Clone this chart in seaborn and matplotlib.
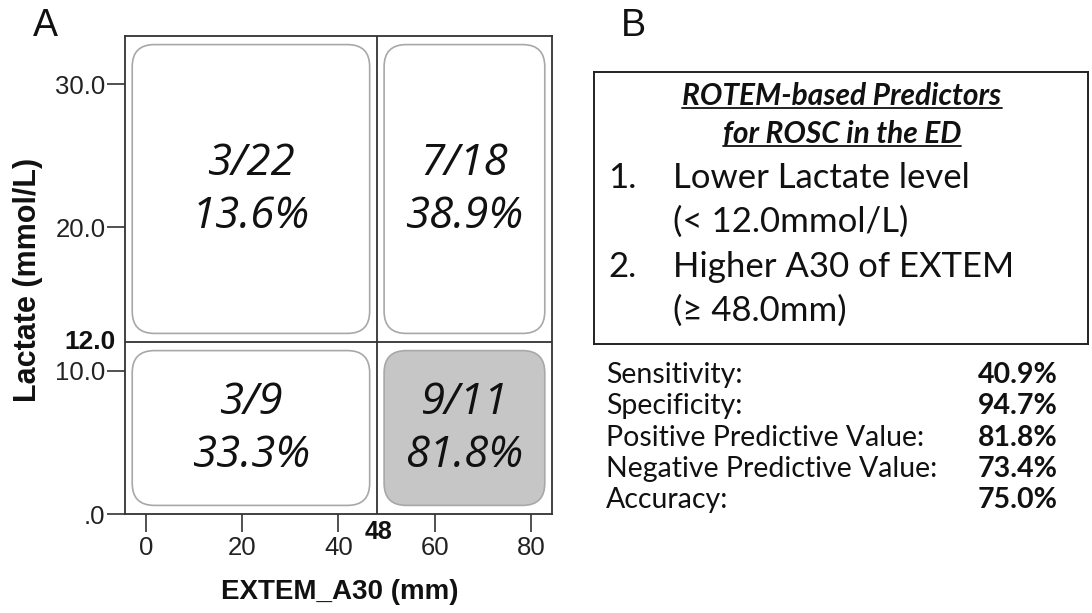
import numpy as np
import pandas as pd
import matplotlib.pyplot as plt
import seaborn as sns
from matplotlib.patches import FancyBboxPatch

# cortes de ROTEM y conteos ROSC / total por celda
x_cut = 48
y_cut = 12.0
x_ticks = [0, 20, 40, 60, 80]
y_ticks = [0, 10, 20, 30]
y_tick_labels = ['.0', '10.0', '20.0', '30.0']

cell_lactate = ['high', 'high', 'low', 'low']
cell_a30 = ['low', 'high', 'low', 'high']
rosc = [3, 7, 3, 9]
total = [22, 18, 9, 11]
highlight = [False, False, False, True]

titulo = ['ROTEM-based Predictors', 'for ROSC in the ED']
pred_num = ['1.', '2.']
pred_txt = [['Lower Lactate level', '(< 12.0mmol/L)'],
            ['Higher A30 of EXTEM', '(≥ 48.0mm)']]
stat_names = ['Sensitivity:', 'Specificity:', 'Positive Predictive Value:',
              'Negative Predictive Value:', 'Accuracy:']
stat_values = [40.9, 94.7, 81.8, 73.4, 75.0]

celdas = pd.DataFrame({'lactate': cell_lactate, 'a30': cell_a30,
                       'rosc': rosc, 'total': total, 'highlight': highlight})
celdas['pct'] = 100 * celdas['rosc'] / celdas['total']

sns.set_theme(style='ticks')
plt.rcParams['font.family'] = ['Liberation Sans', 'DejaVu Sans']

W, H = 1092, 613
fig = plt.figure(figsize=(W / 100, H / 100), dpi=100)
fig.patch.set_facecolor('white')


def fx(x):
    return x / W


def fy(y):
    return 1 - y / H


# ---------- panel A ----------
ax = fig.add_axes([fx(125), fy(514), (552 - 125) / W, (514 - 36) / H])
x_lim = (-4.36, 84.4)
y_lim = (0, 33.35)
ax.set_xlim(*x_lim)
ax.set_ylim(*y_lim)

for s in ax.spines.values():
    s.set_visible(True)
    s.set_color('#333333')
    s.set_linewidth(1.3)

ax.axvline(x_cut, color='#333333', lw=1.3)
ax.axhline(y_cut, color='#333333', lw=1.3)

ax.set_xticks(x_ticks)
ax.set_yticks(y_ticks)
ax.set_yticklabels(y_tick_labels)
ax.tick_params(axis='both', direction='out', length=13, width=1.2,
               color='#333333', labelsize=18.5, labelcolor='#222222')
ax.tick_params(axis='y', pad=1)
ax.tick_params(axis='x', pad=3)

ax.set_ylabel('Lactate (mmol/L)', fontsize=22, fontweight='bold', color='#111111')
ax.set_xlabel('EXTEM_A30 (mm)', fontsize=20, fontweight='bold', color='#111111')
ax.yaxis.set_label_coords(-0.192, 0.49)
ax.xaxis.set_label_coords(0.503, -0.135)

# etiquetas de corte en negrita
ax.annotate(f'{y_cut:.1f}', xy=(0, y_cut), xycoords=('axes fraction', 'data'),
            xytext=(-6.5, 0), textcoords='offset points', ha='right', va='center',
            fontsize=19, fontweight='bold', color='#111111')
ax.annotate(f'{x_cut}', xy=(x_cut, 0), xycoords=('data', 'axes fraction'),
            xytext=(1.5, -13), textcoords='offset points', ha='center', va='center',
            fontsize=18, fontweight='bold', color='#111111')

pad_x, pad_y = 1.5, 0.6
x_rng = {'low': (x_lim[0], x_cut), 'high': (x_cut, x_lim[1])}
y_rng = {'low': (y_lim[0], y_cut), 'high': (y_cut, y_lim[1])}
for _, c in celdas.iterrows():
    x0, x1 = x_rng[c['a30']]
    y0, y1 = y_rng[c['lactate']]
    box = FancyBboxPatch((x0 + pad_x, y0 + pad_y), (x1 - x0) - 2 * pad_x,
                         (y1 - y0) - 2 * pad_y,
                         boxstyle='round,pad=0,rounding_size=4.6',
                         mutation_aspect=0.335,
                         facecolor='#c6c6c6' if c['highlight'] else 'white',
                         edgecolor='#a8a8a8', lw=1.2)
    ax.add_patch(box)
    ax.text((x0 + x1) / 2, (y0 + y1) / 2 - 0.1,
            f"{c['rosc']}/{c['total']}\n{c['pct']:.1f}%",
            ha='center', va='center', fontsize=31.5, style='italic',
            family=['Open Sans', 'DejaVu Sans'], linespacing=1.25, color='#111111')

fig.text(fx(45), fy(26), 'A', fontsize=27, ha='center', va='center', color='#111111')
fig.text(fx(633), fy(26), 'B', fontsize=27, ha='center', va='center', color='#111111')

# ---------- panel B ----------
axb = fig.add_axes([fx(594), fy(344), (1088 - 594) / W, (344 - 72) / H])
axb.set_xticks([])
axb.set_yticks([])
for s in axb.spines.values():
    s.set_visible(True)
    s.set_color('#222222')
    s.set_linewidth(1.4)

fam = ['Lato', 'DejaVu Sans']
heads = []
for i, t in enumerate(titulo):
    heads.append(fig.text(fx(842), fy(96 + 38 * i), t, ha='center', va='center',
                          fontsize=21.5, fontweight='bold', style='italic',
                          family=fam, color='#111111'))

for i, (n, lines) in enumerate(zip(pred_num, pred_txt)):
    y0 = 178 + 89 * i
    fig.text(fx(608), fy(y0), n, ha='left', va='center', fontsize=25,
             family=fam, color='#111111')
    for j, t in enumerate(lines):
        fig.text(fx(673), fy(y0 + 44 * j), t, ha='left', va='center',
                 fontsize=25, family=fam, color='#111111')

for i, (n, v) in enumerate(zip(stat_names, stat_values)):
    y0 = 375 + 31.3 * i
    fig.text(fx(606), fy(y0), n, ha='left', va='center', fontsize=20.5,
             family=fam, color='#111111')
    fig.text(fx(1058), fy(y0), f'{v:.1f}%', ha='right', va='center', fontsize=20.5,
             fontweight='bold', family=fam, color='#111111')

# subrayado del titulo
fig.canvas.draw()
r = fig.canvas.get_renderer()
for t in heads:
    bb = t.get_window_extent(r)
    yl = (bb.y0 + 2) / H
    fig.add_artist(plt.Line2D([bb.x0 / W, bb.x1 / W], [yl, yl],
                              color='#111111', lw=1.3))

fig.savefig('out.png', dpi=100)
